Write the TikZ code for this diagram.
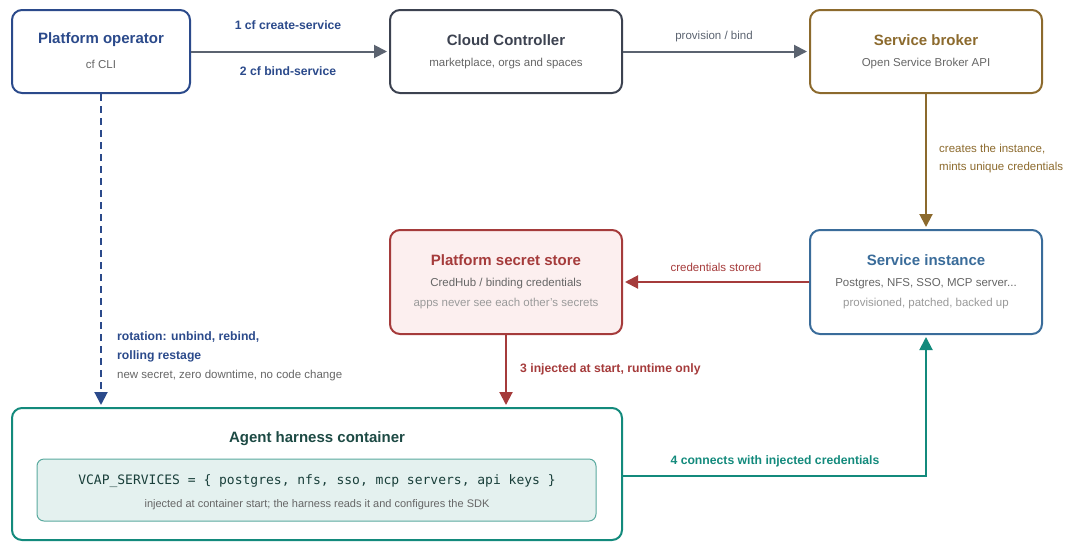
\documentclass[tikz,border=0pt]{standalone}
\usepackage{fontspec}
\setmainfont{Liberation Sans}
\newfontfamily\monof{DejaVu Sans Mono}
\usetikzlibrary{arrows.meta}
\definecolor{opblue}{HTML}{2B4A8B}
\definecolor{ccgray}{HTML}{3C4250}
\definecolor{arrgray}{HTML}{5B6370}
\definecolor{brown}{HTML}{8C6A2D}
\definecolor{instblue}{HTML}{3A6C9A}
\definecolor{secred}{HTML}{A53B3B}
\definecolor{secfill}{HTML}{FCEFEF}
\definecolor{teal}{HTML}{138A7C}
\definecolor{darkteal}{HTML}{1D4A44}
\definecolor{innerfill}{HTML}{E4F1EF}
\definecolor{innerline}{HTML}{5AAA9F}
\definecolor{subgray}{HTML}{666666}
\definecolor{tergray}{HTML}{9A9A9A}
\tikzset{
  box/.style={draw, line width=2pt, rounded corners=10pt, fill=white, inner sep=0pt},
  ttl/.style={font=\fontsize{15}{18}\selectfont\bfseries, inner sep=0pt, yshift=-2pt},
  sub/.style={font=\fontsize{11.5}{14}\selectfont, text=subgray, inner sep=0pt, yshift=-2pt},
  ter/.style={font=\fontsize{11.5}{14}\selectfont, text=tergray, inner sep=0pt, yshift=-2pt},
  lbl/.style={font=\fontsize{12.2}{15}\selectfont\bfseries, inner sep=0pt, yshift=-1.5pt},
  lbln/.style={font=\fontsize{11.5}{14}\selectfont, inner sep=0pt, yshift=-1.5pt},
  arr/.style={line width=2pt, shorten >=2pt, -{Triangle[length=13pt,width=13pt]}},
}
\begin{document}
\begin{tikzpicture}[x=1pt,y=-1pt]
\useasboundingbox (0,0) rectangle (1068,542);
% boxes
\node[box, draw=opblue, minimum width=178pt, minimum height=83pt] (op) at (101,51.5) {};
\node[box, draw=ccgray, minimum width=232pt, minimum height=83pt] (cc) at (506,51.5) {};
\node[box, draw=brown, minimum width=232pt, minimum height=83pt] (sb) at (926,51.5) {};
\node[box, draw=instblue, minimum width=232pt, minimum height=104pt] (si) at (926,282) {};
\node[box, draw=secred, fill=secfill, minimum width=232pt, minimum height=104pt] (ss) at (506,282) {};
\node[box, draw=teal, minimum width=610pt, minimum height=132pt] (ahc) at (317,474) {};
\node[draw=innerline, line width=1pt, fill=innerfill, rounded corners=7pt, minimum width=559pt, minimum height=62pt, inner sep=0pt] (env) at (316.5,490) {};
% box texts
\node[ttl, text=opblue] (opt) at (101,38) {Platform operator};
\node[sub] (ops) at (101,62) {cf CLI};
\node[ttl, text=ccgray] (cct) at (506,38) {Cloud Controller};
\node[sub] (ccs) at (506,62) {marketplace, orgs and spaces};
\node[ttl, text=brown] (sbt) at (926,38) {Service broker};
\node[sub] (sbs) at (926,62) {Open Service Broker API};
\node[ttl, text=instblue] (sit) at (926,258) {Service instance};
\node[sub] (sis) at (926,282) {Postgres, NFS, SSO, MCP server...};
\node[ter] (sir) at (926,302) {provisioned, patched, backed up};
\node[ttl, text=secred] (sst) at (506,258) {Platform secret store};
\node[sub] (sss) at (506,282) {CredHub / binding credentials};
\node[ter] (ssr) at (506,302) {apps never see each other's secrets};
\node[ttl, text=darkteal] (aht) at (317,437) {Agent harness container};
\node[font=\monof\fontsize{13}{16}\selectfont, text=darkteal!85!black, inner sep=0pt, yshift=-1pt] (envt) at (317,480) {VCAP\_SERVICES = \{ postgres, nfs, sso, mcp servers, api keys \}};
\node[font=\fontsize{11}{13}\selectfont, text=subgray, inner sep=0pt, yshift=-1.5pt] (envc) at (317,503) {injected at container start; the harness reads it and configures the SDK};
% connectors
\draw[arr, arrgray] (op.east) -- (cc.west);
\draw[arr, arrgray] (cc.east) -- (sb.west);
\draw[arr, brown] (sb.south) -- (si.north);
\draw[arr, secred] (si.west) -- (ss.east);
\draw[arr, secred] (ss.south) -- (ss.south |- ahc.north);
\draw[arr, opblue, dash pattern=on 7pt off 5pt] (op.south) -- (op.south |- ahc.north);
\coordinate (ahcout) at (ahc.east |- 0,476);
\draw[arr, teal] (ahcout) -| (si.south);
% labels
\node[lbl, text=opblue] (l1) at (288,24) {1 cf create-service};
\node[lbl, text=opblue] (l2) at (288,70) {2 cf bind-service};
\node[lbln, text=arrgray] (l3) at (714,35) {provision / bind};
\node[lbln, text=brown, anchor=west] (l4) at (939,148) {creates the instance,};
\node[lbln, text=brown, anchor=west] (l5) at (939,166) {mints unique credentials};
\node[lbln, text=secred] (l6) at (716,266) {credentials stored};
\node[lbl, text=secred, anchor=west] (l7) at (520,368) {3 injected at start, runtime only};
\node[lbl, text=opblue, anchor=west] (l8) at (117,336) {rotation: unbind, rebind,};
\node[lbl, text=opblue, anchor=west] (l9) at (117,355) {rolling restage};
\node[lbln, text=subgray, anchor=west] (l10) at (117,374) {new secret, zero downtime, no code change};
\node[lbl, text=teal] (l11) at (775,460) {4 connects with injected credentials};
\end{tikzpicture}
\end{document}
